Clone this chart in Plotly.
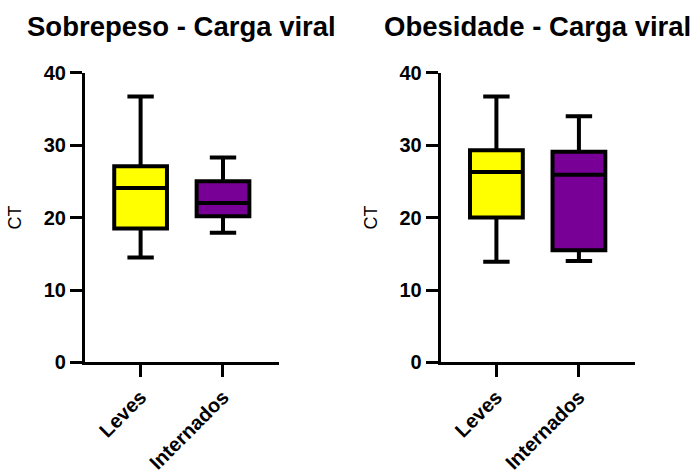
import plotly.graph_objects as go
from plotly.subplots import make_subplots

# Box summaries (CT values) for each group
categories = ["Leves", "Internados"]
panel_titles = ["Sobrepeso - Carga viral", "Obesidade - Carga viral"]

sobrepeso_min = [14.5, 17.9]
sobrepeso_q1 = [18.5, 20.2]
sobrepeso_median = [24.1, 22.0]
sobrepeso_q3 = [27.1, 25.0]
sobrepeso_max = [36.7, 28.3]

obesidade_min = [13.9, 14.0]
obesidade_q1 = [20.0, 15.5]
obesidade_median = [26.3, 25.9]
obesidade_q3 = [29.3, 29.1]
obesidade_max = [36.7, 34.0]

y_ticks = [0, 10, 20, 30, 40]
fill_colors = ["#FFFF00", "#780096"]

FONT = "Liberation Sans, Arial, sans-serif"

fig = make_subplots(rows=1, cols=2)

panels = [
    (sobrepeso_min, sobrepeso_q1, sobrepeso_median, sobrepeso_q3, sobrepeso_max),
    (obesidade_min, obesidade_q1, obesidade_median, obesidade_q3, obesidade_max),
]

for col, (lo, q1, med, q3, hi) in enumerate(panels, start=1):
    for i, cat in enumerate(categories):
        fig.add_trace(
            go.Box(
                x=[cat],
                lowerfence=[lo[i]],
                q1=[q1[i]],
                median=[med[i]],
                q3=[q3[i]],
                upperfence=[hi[i]],
                fillcolor=fill_colors[i],
                line=dict(color="black", width=4),
                width=0.64,
                whiskerwidth=0.5,
                boxpoints=False,
                hoverinfo="skip",
                showlegend=False,
            ),
            row=1, col=col,
        )

x_domains = [[0.1221, 0.4009], [0.6332, 0.9124]]
y_domain = [0.232, 0.846]

axis_common = dict(
    showline=True, linewidth=3, linecolor="black",
    ticks="outside", ticklen=12, tickwidth=3, tickcolor="black",
    showgrid=False, zeroline=False, automargin=False,
    tickfont=dict(family=FONT, size=20, color="black", weight="bold"),
)

for col in (1, 2):
    fig.update_xaxes(
        domain=x_domains[col - 1],
        type="category",
        categoryorder="array", categoryarray=categories,
        range=[-0.675, 1.68],
        tickangle=-45,
        row=1, col=col,
        **axis_common,
    )
    fig.update_yaxes(
        domain=y_domain,
        range=[0, 40],
        tickvals=y_ticks,
        title=dict(text="CT", font=dict(family=FONT, size=18, color="black"), standoff=18),
        row=1, col=col,
        **axis_common,
    )

# Panel titles
title_x = [0.261, 0.772]
for col, title in enumerate(panel_titles):
    fig.add_annotation(
        text=f"<b>{title}</b>",
        x=title_x[col], y=1 - 27 / 472,
        xref="paper", yref="paper",
        xanchor="center", yanchor="middle",
        showarrow=False,
        font=dict(family=FONT, size=27.5, color="black"),
    )

fig.update_layout(
    width=696, height=472,
    margin=dict(l=0, r=0, t=0, b=0),
    paper_bgcolor="white", plot_bgcolor="white",
    boxmode="overlay",
)

fig.write_html("out.html")
